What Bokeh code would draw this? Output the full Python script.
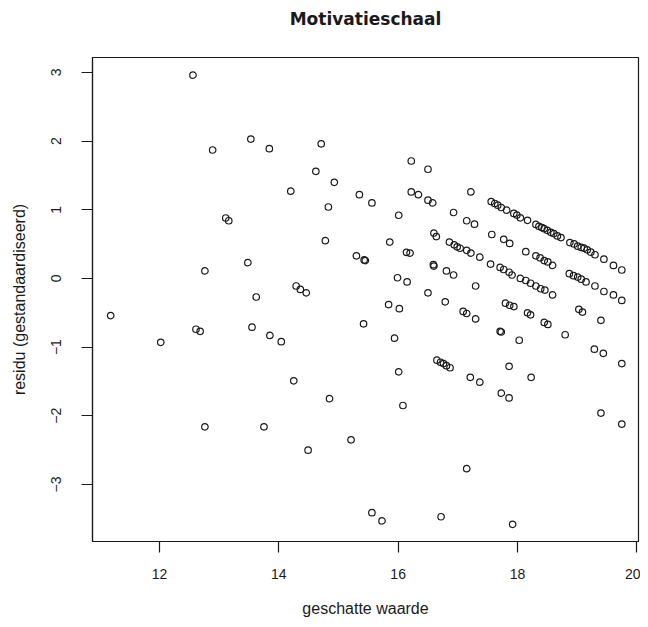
from bokeh.plotting import figure
from bokeh.models import Range1d, FixedTicker, ColumnDataSource, Title
from bokeh.embed import file_html
from bokeh.resources import INLINE

title_text = "Motivatieschaal"
x_label = "geschatte waarde"
y_label = "residu (gestandaardiseerd)"
x_ticks = [12, 14, 16, 18, 20]
y_ticks = [-3, -2, -1, 0, 1, 2, 3]

# left / middle part of the cloud
x_left = [11.18, 12.56, 12.02, 12.61, 12.68, 12.76, 12.76, 12.89, 13.11, 13.16,
          13.48, 13.53, 13.55, 13.62, 13.75, 13.84, 13.85, 14.04, 14.20, 14.25,
          14.29, 14.36, 14.46, 14.49, 14.62, 14.71, 14.78, 14.83, 14.85, 14.93,
          15.35, 15.56, 16.22, 16.50, 16.22, 16.34, 16.50, 16.58, 16.93, 16.01,
          15.86, 16.60, 16.64, 16.86, 16.94, 16.99, 15.30, 15.43, 15.45, 16.14,
          16.20, 16.59, 16.60, 16.81, 16.93, 15.99, 16.15, 16.50, 16.79, 15.84,
          16.02, 15.42, 15.94, 16.65, 16.71, 16.76, 16.81, 16.87, 16.01, 16.08,
          15.21, 15.56, 15.73, 16.72]
y_left = [-0.54, 2.96, -0.93, -0.74, -0.77, 0.11, -2.16, 1.87, 0.88, 0.84,
          0.23, 2.03, -0.71, -0.27, -2.16, 1.89, -0.83, -0.92, 1.27, -1.49,
          -0.11, -0.16, -0.21, -2.50, 1.56, 1.96, 0.55, 1.04, -1.75, 1.40,
          1.22, 1.10, 1.71, 1.59, 1.26, 1.22, 1.14, 1.10, 0.96, 0.92,
          0.53, 0.66, 0.61, 0.53, 0.49, 0.46, 0.33, 0.27, 0.26, 0.38,
          0.37, 0.20, 0.18, 0.11, 0.05, 0.01, -0.05, -0.21, -0.34, -0.38,
          -0.44, -0.66, -0.87, -1.19, -1.22, -1.24, -1.27, -1.30, -1.36, -1.85,
          -2.35, -3.41, -3.53, -3.47]

# top diagonal band on the right
x_band_a = [17.56, 17.62, 17.67, 17.73, 17.82, 17.94, 17.99, 18.05, 18.17, 18.31,
            18.36, 18.41, 18.45, 18.50, 18.56, 18.61, 18.67, 18.73, 18.88, 18.95,
            19.01, 19.07, 19.12, 19.17, 19.23, 19.30, 19.45, 19.61, 19.75]
y_band_a = [1.120, 1.091, 1.067, 1.033, 0.994, 0.947, 0.922, 0.883, 0.846, 0.787,
            0.759, 0.740, 0.725, 0.701, 0.671, 0.653, 0.619, 0.595, 0.523, 0.503,
            0.470, 0.451, 0.441, 0.417, 0.382, 0.345, 0.281, 0.190, 0.123]

# further bands and scattered points on the right
x_right = [17.22, 17.15, 17.28, 17.57, 17.77, 17.87, 17.04, 17.15, 17.22, 17.37,
           17.55, 17.71, 17.77, 17.86, 17.91, 18.05, 18.14, 18.22, 18.31, 18.39,
           18.46, 18.59, 19.03, 19.09, 19.40,
           18.14, 18.31, 18.38, 18.45, 18.51, 18.59, 18.87, 18.94, 19.01, 19.07,
           19.15, 19.30, 19.45, 19.61, 19.75,
           17.30,
           17.80, 17.87, 17.94, 18.17, 18.22, 18.45, 18.51, 18.80, 19.29, 19.44,
           19.75,
           17.09, 17.15, 17.30, 17.71, 17.73, 18.03, 17.86, 17.21, 17.37, 18.23,
           17.73, 17.86, 19.40, 19.75, 17.15, 17.92]
y_right = [1.26, 0.84, 0.79, 0.64, 0.57, 0.51, 0.44, 0.41, 0.37, 0.31,
           0.21, 0.16, 0.13, 0.09, 0.05, 0.00, -0.03, -0.07, -0.11, -0.15,
           -0.17, -0.24, -0.45, -0.49, -0.61,
           0.39, 0.33, 0.30, 0.26, 0.24, 0.19, 0.07, 0.04, 0.02, -0.01,
           -0.05, -0.11, -0.19, -0.24, -0.32,
           -0.11,
           -0.36, -0.39, -0.41, -0.50, -0.53, -0.64, -0.67, -0.82, -1.03, -1.09,
           -1.24,
           -0.48, -0.51, -0.59, -0.77, -0.78, -0.90, -1.28, -1.44, -1.51, -1.44,
           -1.67, -1.74, -1.96, -2.12, -2.77, -3.58]

xs = x_left + x_band_a + x_right
ys = y_left + y_band_a + y_right
src = ColumnDataSource(dict(x=xs, y=ys))

FONT = "Liberation Sans"
INK = "#1a1a1a"

p = figure(width=640, height=619, output_backend="svg", toolbar_location=None,
           x_range=Range1d(10.875, 20.03), y_range=Range1d(-3.83, 3.217),
           min_border_left=92, min_border_right=2, min_border_top=57,
           min_border_bottom=74,
           x_axis_label=x_label, y_axis_label=y_label)

p.scatter("x", "y", source=src, marker="circle", size=6.5,
          fill_color=None, line_color=INK, line_width=1.2)

p.grid.visible = False
p.outline_line_color = INK
p.outline_line_width = 1.2
p.background_fill_color = "white"
p.border_fill_color = "white"

# spacer (closest to the frame), then the visible title above it
p.add_layout(Title(text=" ", text_font_size="2px", standoff=25), "above")
p.add_layout(Title(text=title_text, align="center", standoff=0,
                   text_font="DejaVu Sans", text_font_size="17px",
                   text_font_style="bold", text_color=INK), "above")

p.xaxis.ticker = FixedTicker(ticks=x_ticks)
p.yaxis.ticker = FixedTicker(ticks=y_ticks)
for ax in (p.xaxis, p.yaxis):
    ax.axis_line_color = INK
    ax.axis_line_width = 1.2
    ax.major_tick_line_color = INK
    ax.major_tick_line_width = 1.2
    ax.major_tick_out = 11
    ax.major_tick_in = 0
    ax.minor_tick_line_color = None
    ax.major_label_text_font = FONT
    ax.major_label_text_font_size = "14px"
    ax.major_label_text_color = INK
    ax.axis_label_text_font = FONT
    ax.axis_label_text_font_size = "16px"
    ax.axis_label_text_font_style = "normal"
    ax.axis_label_text_color = INK

p.yaxis.major_label_orientation = "vertical"
p.xaxis.major_label_standoff = 16
p.yaxis.major_label_standoff = 20
p.xaxis.axis_label_standoff = 18
p.yaxis.axis_label_standoff = 21

open("out.html", "w").write(file_html(p, INLINE))
